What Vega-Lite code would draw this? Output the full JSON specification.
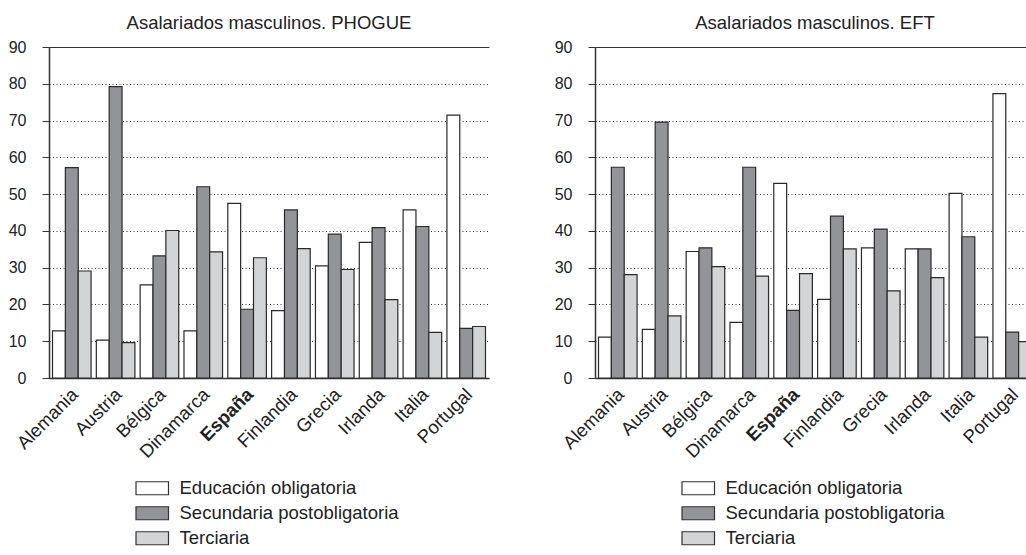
{
  "$schema": "https://vega.github.io/schema/vega-lite/v6.json",
  "padding": {"left": 8, "top": 13, "right": 5, "bottom": 5},
  "background": "white",
  "config": {
    "font": "Liberation Sans",
    "view": {"stroke": null},
    "title": {"fontSize": 18.5, "fontWeight": "normal", "color": "#222222", "offset": 7, "anchor": "middle"},
    "concat": {"spacing": 65},
    "legend": {
      "orient": "none",
      "legendX": 94,
      "legendY": 432,
      "padding": 0,
      "title": null,
      "labelFontSize": 18.5,
      "labelLimit": 400,
      "labelColor": "#222222",
      "symbolType": "M-2.5,-1H2.5V1H-2.5Z",
      "symbolSize": 169,
      "symbolStrokeColor": "#333333",
      "symbolStrokeWidth": 1.2,
      "symbolOpacity": 1,
      "symbolOffset": 0,
      "labelOffset": 18,
      "rowPadding": 6
    },
    "axisY": {
      "domainColor": "#333333",
      "domainWidth": 1.5,
      "tickColor": "#333333",
      "tickSize": 7,
      "labelFontSize": 16,
      "labelColor": "#222222",
      "labelPadding": 16,
      "gridColor": "#333333",
      "gridWidth": 1,
      "gridOpacity": 1,
      "title": null
    },
    "axisX": {
      "domainColor": "#333333",
      "domainWidth": 1.5,
      "ticks": false,
      "labelFontSize": 18.5,
      "labelColor": "#222222",
      "labelAngle": -45,
      "labelAlign": "right",
      "labelBaseline": "middle",
      "labelPadding": 13,
      "labelOffset": 3,
      "title": null,
      "grid": false
    }
  },
  "datasets": {
    "phogue": [
      {"pais": "Alemania", "nivel": "Educación obligatoria", "valor": 12.8},
      {"pais": "Alemania", "nivel": "Secundaria postobligatoria", "valor": 57.2},
      {"pais": "Alemania", "nivel": "Terciaria", "valor": 29.1},
      {"pais": "Austria", "nivel": "Educación obligatoria", "valor": 10.3},
      {"pais": "Austria", "nivel": "Secundaria postobligatoria", "valor": 79.2},
      {"pais": "Austria", "nivel": "Terciaria", "valor": 9.6},
      {"pais": "Bélgica", "nivel": "Educación obligatoria", "valor": 25.3},
      {"pais": "Bélgica", "nivel": "Secundaria postobligatoria", "valor": 33.2},
      {"pais": "Bélgica", "nivel": "Terciaria", "valor": 40.1},
      {"pais": "Dinamarca", "nivel": "Educación obligatoria", "valor": 12.8},
      {"pais": "Dinamarca", "nivel": "Secundaria postobligatoria", "valor": 52.0},
      {"pais": "Dinamarca", "nivel": "Terciaria", "valor": 34.3},
      {"pais": "España", "nivel": "Educación obligatoria", "valor": 47.5},
      {"pais": "España", "nivel": "Secundaria postobligatoria", "valor": 18.7},
      {"pais": "España", "nivel": "Terciaria", "valor": 32.7},
      {"pais": "Finlandia", "nivel": "Educación obligatoria", "valor": 18.3},
      {"pais": "Finlandia", "nivel": "Secundaria postobligatoria", "valor": 45.7},
      {"pais": "Finlandia", "nivel": "Terciaria", "valor": 35.2},
      {"pais": "Grecia", "nivel": "Educación obligatoria", "valor": 30.5},
      {"pais": "Grecia", "nivel": "Secundaria postobligatoria", "valor": 39.1},
      {"pais": "Grecia", "nivel": "Terciaria", "valor": 29.5},
      {"pais": "Irlanda", "nivel": "Educación obligatoria", "valor": 36.9},
      {"pais": "Irlanda", "nivel": "Secundaria postobligatoria", "valor": 40.9},
      {"pais": "Irlanda", "nivel": "Terciaria", "valor": 21.3},
      {"pais": "Italia", "nivel": "Educación obligatoria", "valor": 45.7},
      {"pais": "Italia", "nivel": "Secundaria postobligatoria", "valor": 41.2},
      {"pais": "Italia", "nivel": "Terciaria", "valor": 12.4},
      {"pais": "Portugal", "nivel": "Educación obligatoria", "valor": 71.5},
      {"pais": "Portugal", "nivel": "Secundaria postobligatoria", "valor": 13.5},
      {"pais": "Portugal", "nivel": "Terciaria", "valor": 14.0}
    ],
    "eft": [
      {"pais": "Alemania", "nivel": "Educación obligatoria", "valor": 11.1},
      {"pais": "Alemania", "nivel": "Secundaria postobligatoria", "valor": 57.3},
      {"pais": "Alemania", "nivel": "Terciaria", "valor": 28.1},
      {"pais": "Austria", "nivel": "Educación obligatoria", "valor": 13.2},
      {"pais": "Austria", "nivel": "Secundaria postobligatoria", "valor": 69.6},
      {"pais": "Austria", "nivel": "Terciaria", "valor": 16.9},
      {"pais": "Bélgica", "nivel": "Educación obligatoria", "valor": 34.4},
      {"pais": "Bélgica", "nivel": "Secundaria postobligatoria", "valor": 35.4},
      {"pais": "Bélgica", "nivel": "Terciaria", "valor": 30.3},
      {"pais": "Dinamarca", "nivel": "Educación obligatoria", "valor": 15.1},
      {"pais": "Dinamarca", "nivel": "Secundaria postobligatoria", "valor": 57.3},
      {"pais": "Dinamarca", "nivel": "Terciaria", "valor": 27.7},
      {"pais": "España", "nivel": "Educación obligatoria", "valor": 52.9},
      {"pais": "España", "nivel": "Secundaria postobligatoria", "valor": 18.4},
      {"pais": "España", "nivel": "Terciaria", "valor": 28.4},
      {"pais": "Finlandia", "nivel": "Educación obligatoria", "valor": 21.4},
      {"pais": "Finlandia", "nivel": "Secundaria postobligatoria", "valor": 44.0},
      {"pais": "Finlandia", "nivel": "Terciaria", "valor": 35.1},
      {"pais": "Grecia", "nivel": "Educación obligatoria", "valor": 35.4},
      {"pais": "Grecia", "nivel": "Secundaria postobligatoria", "valor": 40.5},
      {"pais": "Grecia", "nivel": "Terciaria", "valor": 23.7},
      {"pais": "Irlanda", "nivel": "Educación obligatoria", "valor": 35.1},
      {"pais": "Irlanda", "nivel": "Secundaria postobligatoria", "valor": 35.1},
      {"pais": "Irlanda", "nivel": "Terciaria", "valor": 27.3},
      {"pais": "Italia", "nivel": "Educación obligatoria", "valor": 50.2},
      {"pais": "Italia", "nivel": "Secundaria postobligatoria", "valor": 38.4},
      {"pais": "Italia", "nivel": "Terciaria", "valor": 11.1},
      {"pais": "Portugal", "nivel": "Educación obligatoria", "valor": 77.3},
      {"pais": "Portugal", "nivel": "Secundaria postobligatoria", "valor": 12.5},
      {"pais": "Portugal", "nivel": "Terciaria", "valor": 9.9}
    ]
  },
  "resolve": {"legend": {"color": "independent"}, "scale": {"color": "independent"}},
  "hconcat": [
    {
      "title": "Asalariados masculinos. PHOGUE",
      "width": 440,
      "height": 331,
      "data": {"name": "phogue"},
      "mark": {"type": "bar", "stroke": "#2a2a2a", "strokeWidth": 1.2},
      "encoding": {
        "x": {
          "field": "pais", "type": "nominal", "sort": null,
          "scale": {"paddingInner": 0.12, "paddingOuter": 0.08},
          "axis": {"labelFontWeight": {"condition": {"test": "datum.value == 'España'", "value": "bold"}, "value": "normal"}}
        },
        "xOffset": {"field": "nivel", "type": "nominal", "sort": ["Educación obligatoria", "Secundaria postobligatoria", "Terciaria"], "scale": {"paddingInner": 0, "paddingOuter": 0}},
        "y": {
          "field": "valor", "type": "quantitative",
          "scale": {"domain": [0, 90], "nice": false},
          "axis": {"values": [0, 10, 20, 30, 40, 50, 60, 70, 80, 90], "grid": true, "gridDash": {"condition": {"test": "datum.value == 90 || datum.value == 0", "value": []}, "value": [1, 2.5]}}
        },
        "color": {
          "field": "nivel", "type": "nominal",
          "scale": {"domain": ["Educación obligatoria", "Secundaria postobligatoria", "Terciaria"], "range": ["#ffffff", "#939497", "#d3d4d6"]},
          "legend": {}
        }
      }
    },
    {
      "title": "Asalariados masculinos. EFT",
      "width": 440,
      "height": 331,
      "data": {"name": "eft"},
      "mark": {"type": "bar", "stroke": "#2a2a2a", "strokeWidth": 1.2},
      "encoding": {
        "x": {
          "field": "pais", "type": "nominal", "sort": null,
          "scale": {"paddingInner": 0.12, "paddingOuter": 0.08},
          "axis": {"labelFontWeight": {"condition": {"test": "datum.value == 'España'", "value": "bold"}, "value": "normal"}}
        },
        "xOffset": {"field": "nivel", "type": "nominal", "sort": ["Educación obligatoria", "Secundaria postobligatoria", "Terciaria"], "scale": {"paddingInner": 0, "paddingOuter": 0}},
        "y": {
          "field": "valor", "type": "quantitative",
          "scale": {"domain": [0, 90], "nice": false},
          "axis": {"values": [0, 10, 20, 30, 40, 50, 60, 70, 80, 90], "grid": true, "gridDash": {"condition": {"test": "datum.value == 90 || datum.value == 0", "value": []}, "value": [1, 2.5]}}
        },
        "color": {
          "field": "nivel", "type": "nominal",
          "scale": {"domain": ["Educación obligatoria", "Secundaria postobligatoria", "Terciaria"], "range": ["#ffffff", "#939497", "#d3d4d6"]},
          "legend": {}
        }
      }
    }
  ]
}
